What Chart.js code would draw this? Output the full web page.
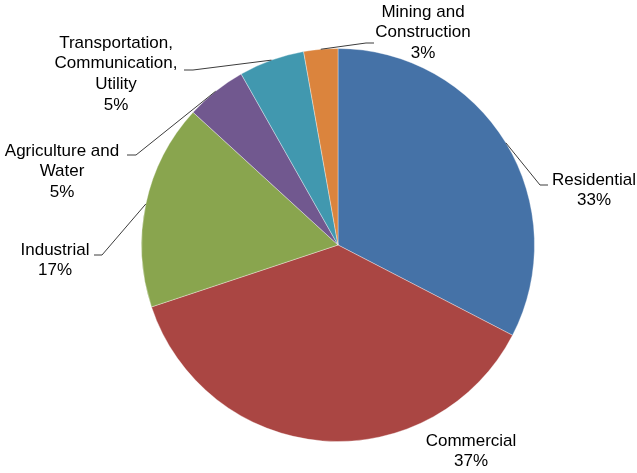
<!DOCTYPE html>
<html lang="en">
<head>
    <meta charset="UTF-8">
    <title>Energy use by sector</title>
    <script src="https://cdn.jsdelivr.net/npm/chart.js"></script>
    <style>
        body { margin: 0; background: #fff; }
        #pieChart { display: block; }
    </style>
</head>
<body>
    <canvas id="pieChart" width="637" height="473"></canvas>

    <script>
        // data (percent of total)
        const sectors = [
            ['Residential'],
            ['Commercial'],
            ['Industrial'],
            ['Agriculture and', 'Water'],
            ['Transportation,', 'Communication,', 'Utility'],
            ['Mining and', 'Construction']
        ];
        const shares = [32.6, 37.3, 16.9, 5.0, 5.4, 2.8];
        const colors = ['#4572A7', '#AA4643', '#89A54E', '#71588F', '#4198AF', '#DB843D'];

        // where each label sits (text centre x, first line y) and its leader elbow
        const labelSpots = [
            { x: 594, y: 180, elbow: [540, 185], end: [548, 185] },
            { x: 471, y: 441, elbow: null },
            { x: 55,  y: 250, elbow: [102, 255], end: [94, 255] },
            { x: 62,  y: 151, elbow: [136, 155], end: [127, 155] },
            { x: 116, y: 43,  elbow: [193, 70],  end: [184, 70] },
            { x: 423, y: 12,  elbow: [366, 43],  end: [374, 43] }
        ];

        const sliceLabels = {
            id: 'sliceLabels',
            afterDraw(chart) {
                const ctx = chart.ctx;
                const meta = chart.getDatasetMeta(0);
                const total = shares.reduce((a, b) => a + b, 0);
                ctx.save();
                ctx.font = '17px "Liberation Sans", Arial, sans-serif';
                ctx.fillStyle = '#000';
                ctx.textAlign = 'center';
                ctx.textBaseline = 'middle';
                meta.data.forEach((arc, i) => {
                    const spot = labelSpots[i];
                    const p = arc.getProps(['x', 'y', 'startAngle', 'endAngle', 'outerRadius'], true);
                    const mid = (p.startAngle + p.endAngle) / 2;
                    if (spot.elbow) {
                        ctx.beginPath();
                        ctx.strokeStyle = '#3c3c3c';
                        ctx.lineWidth = 1;
                        ctx.moveTo(p.x + Math.cos(mid) * p.outerRadius, p.y + Math.sin(mid) * p.outerRadius);
                        ctx.lineTo(spot.elbow[0], spot.elbow[1]);
                        ctx.lineTo(spot.end[0], spot.end[1]);
                        ctx.stroke();
                    }
                    const lines = sectors[i].concat([Math.round(shares[i] / total * 100) + '%']);
                    lines.forEach((t, j) => ctx.fillText(t, spot.x, spot.y + j * 20.7));
                });
                ctx.restore();
            }
        };

        new Chart(document.getElementById('pieChart').getContext('2d'), {
            type: 'pie',
            data: {
                labels: sectors.map(s => s.join(' ')),
                datasets: [{
                    data: shares,
                    backgroundColor: colors,
                    borderColor: 'rgba(255,255,255,0.35)',
                    borderWidth: 1
                }]
            },
            options: {
                responsive: false,
                animation: false,
                layout: { padding: { top: 48, bottom: 31, left: 141, right: 102 } },
                plugins: {
                    legend: { display: false },
                    tooltip: { enabled: false }
                }
            },
            plugins: [sliceLabels]
        });
    </script>
</body>
</html>
